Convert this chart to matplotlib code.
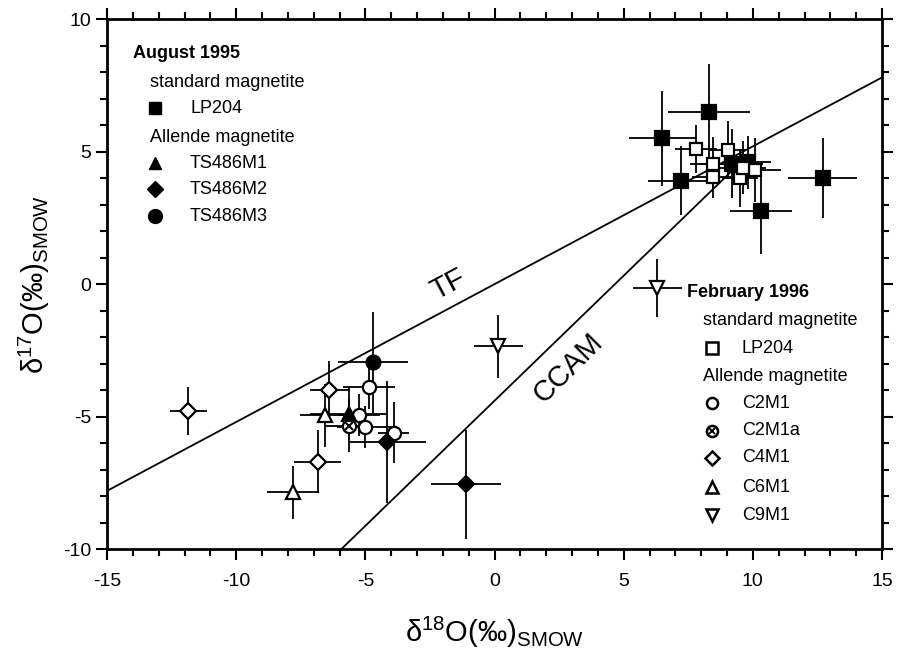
import matplotlib
matplotlib.use("Agg")
import matplotlib.pyplot as plt
from matplotlib.ticker import MultipleLocator

plt.rcParams['font.family'] = ['Liberation Sans', 'DejaVu Sans']
plt.rcParams['mathtext.fontset'] = 'custom'
plt.rcParams['mathtext.rm'] = 'Liberation Sans'
plt.rcParams['axes.unicode_minus'] = False

# August 1995 - standard magnetite LP204 (filled squares)
aug_lp204_x = [6.5, 8.3, 7.2, 10.3, 12.7, 9.2, 9.8]
aug_lp204_y = [5.5, 6.5, 3.9, 2.75, 4.0, 4.55, 4.6]
aug_lp204_xerr = [1.3, 1.6, 1.25, 1.2, 1.35, 1.2, 0.9]
aug_lp204_yerr = [1.8, 1.8, 1.3, 1.6, 1.5, 1.3, 1.0]

# August 1995 - Allende magnetite
ts486m1_x = [-5.65]
ts486m1_y = [-4.9]
ts486m1_xerr = [1.5]
ts486m1_yerr = [1.0]

ts486m2_x = [-4.15, -1.1]
ts486m2_y = [-5.95, -7.55]
ts486m2_xerr = [1.5, 1.35]
ts486m2_yerr = [2.3, 2.05]

ts486m3_x = [-4.7]
ts486m3_y = [-2.95]
ts486m3_xerr = [1.35]
ts486m3_yerr = [1.9]

# February 1996 - standard magnetite LP204 (open squares)
feb_lp204_x = [7.8, 9.05, 8.45, 10.1, 9.5, 8.45, 9.6]
feb_lp204_y = [5.1, 5.05, 4.55, 4.3, 4.0, 4.05, 4.4]
feb_lp204_xerr = [0.8, 0.7, 0.9, 1.0, 0.7, 0.8, 0.9]
feb_lp204_yerr = [0.9, 1.1, 1.0, 1.2, 1.1, 0.8, 1.0]

# February 1996 - Allende magnetite
c2m1_x = [-4.85, -5.25, -5.0, -3.9]
c2m1_y = [-3.9, -4.95, -5.4, -5.6]
c2m1_xerr = [1.0, 0.8, 1.1, 0.6]
c2m1_yerr = [0.8, 0.8, 0.8, 1.15]

c2m1a_x = [-5.65]
c2m1a_y = [-5.35]
c2m1a_xerr = [0.9]
c2m1a_yerr = [1.0]

c4m1_x = [-11.85, -6.4, -6.85]
c4m1_y = [-4.8, -4.0, -6.7]
c4m1_xerr = [0.7, 0.75, 0.9]
c4m1_yerr = [0.9, 1.1, 1.2]

c6m1_x = [-6.55, -7.8]
c6m1_y = [-4.95, -7.85]
c6m1_xerr = [1.0, 1.0]
c6m1_yerr = [1.2, 1.0]

c9m1_x = [0.15, 6.3]
c9m1_y = [-2.35, -0.15]
c9m1_xerr = [0.95, 0.95]
c9m1_yerr = [1.2, 1.1]

# reference lines
tf_x = [-15, 15]
tf_y = [0.52 * v for v in tf_x]
ccam_x = [-5.95, 9.5]
ccam_y = [0.944 * v - 4.4 for v in ccam_x]

fig = plt.figure(figsize=(9, 6.6), dpi=100)
ax = fig.add_axes([0.119, 0.168, 0.861, 0.803])

ax.plot(tf_x, tf_y, color='black', lw=1.3, zorder=1)
ax.plot(ccam_x, ccam_y, color='black', lw=1.3, zorder=1)


def draw(x, y, xe, ye, marker, filled, ms=9):
    ax.errorbar(x, y, xerr=xe, yerr=ye, fmt='none', ecolor='black',
                elinewidth=1.3, capsize=0, zorder=2)
    ax.plot(x, y, linestyle='none', marker=marker, markersize=ms,
            markerfacecolor='black' if filled else 'white',
            markeredgecolor='black', markeredgewidth=1.6, zorder=3)


draw(aug_lp204_x, aug_lp204_y, aug_lp204_xerr, aug_lp204_yerr, 's', True, 10)
draw(feb_lp204_x, feb_lp204_y, feb_lp204_xerr, feb_lp204_yerr, 's', False, 8.5)
draw(c2m1_x, c2m1_y, c2m1_xerr, c2m1_yerr, 'o', False, 9.5)
draw(c2m1a_x, c2m1a_y, c2m1a_xerr, c2m1a_yerr, 'o', False, 9.5)
ax.plot(c2m1a_x, c2m1a_y, linestyle='none', marker='x', markersize=6,
        markeredgecolor='black', markeredgewidth=1.5, zorder=4)
draw(c4m1_x, c4m1_y, c4m1_xerr, c4m1_yerr, 'D', False, 8.5)
draw(c6m1_x, c6m1_y, c6m1_xerr, c6m1_yerr, '^', False, 9.5)
draw(c9m1_x, c9m1_y, c9m1_xerr, c9m1_yerr, 'v', False, 9.5)
draw(ts486m1_x, ts486m1_y, ts486m1_xerr, ts486m1_yerr, '^', True, 9.5)
draw(ts486m2_x, ts486m2_y, ts486m2_xerr, ts486m2_yerr, 'D', True, 8.5)
draw(ts486m3_x, ts486m3_y, ts486m3_xerr, ts486m3_yerr, 'o', True, 10)

ax.text(-1.8, 0.0, 'TF', fontsize=21, rotation=28, ha='center', va='center')
ax.text(2.85, -3.15, 'CCAM', fontsize=21, rotation=45, ha='center', va='center')

ax.set_xlim(-15, 15)
ax.set_ylim(-10, 10)
ax.xaxis.set_major_locator(MultipleLocator(5))
ax.yaxis.set_major_locator(MultipleLocator(5))
ax.xaxis.set_minor_locator(MultipleLocator(1))
ax.yaxis.set_minor_locator(MultipleLocator(1))
ax.tick_params(which='both', direction='out', top=True, right=True,
               width=1.5, labelsize=14)
ax.tick_params(which='major', length=8)
ax.tick_params(which='minor', length=5)
ax.tick_params(axis='x', pad=9)
for s in ax.spines.values():
    s.set_linewidth(2)

ax.set_xlabel('δ$^{18}$O(‰)$_{\\rm SMOW}$', fontsize=21, labelpad=18)
ax.set_ylabel('δ$^{17}$O(‰)$_{\\rm SMOW}$', fontsize=21, labelpad=8)

# legend - August 1995
fs = 13
tr = ax.transAxes
ax.text(0.0335, 0.936, 'August 1995', fontsize=fs, fontweight='bold', va='center', transform=tr)
ax.text(0.0555, 0.881, 'standard magnetite', fontsize=fs, va='center', transform=tr)
ax.text(0.0555, 0.777, 'Allende magnetite', fontsize=fs, va='center', transform=tr)
aug_items = [(0.832, 's', 'LP204', 9), (0.728, '^', 'TS486M1', 9),
             (0.679, 'D', 'TS486M2', 8), (0.628, 'o', 'TS486M3', 10)]
for yy, mk, lab, ms in aug_items:
    ax.plot([0.062], [yy], marker=mk, markersize=ms, color='black', transform=tr)
    ax.text(0.107, yy, lab, fontsize=fs, va='center', transform=tr)

# legend - February 1996
ax.text(0.748, 0.485, 'February 1996', fontsize=fs, fontweight='bold', va='center', transform=tr)
ax.text(0.769, 0.432, 'standard magnetite', fontsize=fs, va='center', transform=tr)
ax.text(0.769, 0.326, 'Allende magnetite', fontsize=fs, va='center', transform=tr)
feb_items = [(0.379, 's', 'LP204', 8), (0.275, 'o', 'C2M1', 8),
             (0.223, 'o', 'C2M1a', 8), (0.172, 'D', 'C4M1', 7),
             (0.117, '^', 'C6M1', 8), (0.064, 'v', 'C9M1', 8)]
for yy, mk, lab, ms in feb_items:
    ax.plot([0.781], [yy], marker=mk, markersize=ms, markerfacecolor='white',
            markeredgecolor='black', markeredgewidth=1.8, transform=tr)
    if lab == 'C2M1a':
        ax.plot([0.781], [yy], marker='x', markersize=5, markeredgecolor='black',
                markeredgewidth=1.4, transform=tr)
    ax.text(0.819, yy, lab, fontsize=fs, va='center', transform=tr)

fig.savefig('out.png', dpi=100)
